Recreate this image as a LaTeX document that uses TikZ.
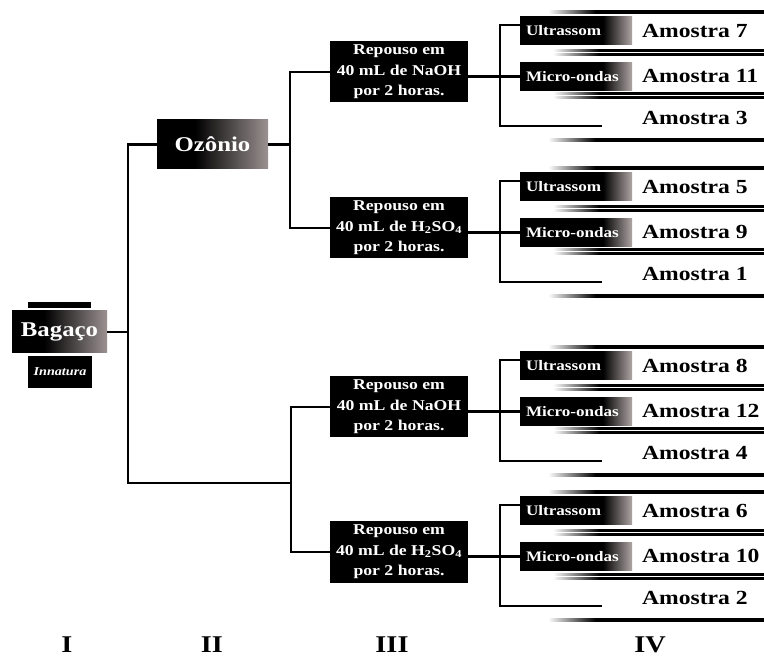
\documentclass[tikz,border=0pt]{standalone}
\usepackage{fontspec}
\setmainfont{Liberation Serif}[FakeStretch=1.18]
\usetikzlibrary{calc}
\definecolor{tabgrey}{RGB}{175,165,165}
\definecolor{boxgrey}{RGB}{155,145,145}
\pgfdeclarehorizontalshading{fadeline}{100bp}{color(0bp)=(white); color(25bp)=(white); color(36bp)=(black); color(100bp)=(black)}
\pgfdeclarehorizontalshading{tabfade}{100bp}{color(0bp)=(black); color(25bp)=(black); color(62bp)=(black); color(75bp)=(tabgrey); color(100bp)=(tabgrey)}
\pgfdeclarehorizontalshading{boxfade}{100bp}{color(0bp)=(black); color(25bp)=(black); color(42bp)=(black); color(75bp)=(boxgrey); color(100bp)=(boxgrey)}
\tikzset{
  conn/.style={line width=2.4pt, black},
  bigbox/.style={shade, shading=boxfade, text=white, inner sep=0pt,
    font=\bfseries\fontsize{21}{24}\selectfont},
  repbox/.style={fill=black, text=white, minimum width=138pt, minimum height=61pt,
    align=center, inner sep=0pt, font=\bfseries\fontsize{15}{20.5}\selectfont},
  tabbox/.style={shade, shading=tabfade, text=white, minimum width=112pt, minimum height=28pt,
    text width=100pt, align=left, inner xsep=6pt, inner ysep=0pt,
    font=\bfseries\fontsize{14.5}{18}\selectfont},
  sample/.style={anchor=west, inner sep=0pt, font=\bfseries\fontsize{20}{24}\selectfont},
  roman/.style={anchor=north, inner sep=0pt, font=\bfseries\fontsize{24}{28}\selectfont}
}
\begin{document}
\begin{tikzpicture}[x=1pt,y=-1pt]
\useasboundingbox (0,0) rectangle (764,660);
\fill[white] (0,0) rectangle (764,660);

% column I
\fill[black] (28,302.5) rectangle (91,308.5);
\node[bigbox, minimum width=95pt, minimum height=42pt] (bag) at (59.5,332) {Bagaço};
\node[fill=black, text=white, minimum width=64pt, minimum height=32pt, inner sep=0pt,
  font=\bfseries\itshape\fontsize{12}{14}\selectfont] (inn) at (60,372) {Innatura};

% column II
\node[bigbox, minimum width=111pt, minimum height=49pt] (ozo) at (212.5,144.5) {Ozônio};

% column III
\node[repbox] (r1) at (399,72) {Repouso em\\40 mL de NaOH\\por 2 horas.};
\node[repbox] (r2) at (399,228) {Repouso em\\40 mL de H\textsubscript{2}SO\textsubscript{4}\\por 2 horas.};
\node[repbox] (r3) at (399,407) {Repouso em\\40 mL de NaOH\\por 2 horas.};
\node[repbox] (r4) at (399,552) {Repouso em\\40 mL de H\textsubscript{2}SO\textsubscript{4}\\por 2 horas.};

% column IV
\foreach \o/\g/\sa/\sb/\sc in {0/1/7/11/3, 156/2/5/9/1, 335/3/8/12/4, 480/4/6/10/2} {
  \shade[shading=fadeline] (548,{12+\o-1.5}) rectangle (764,{12+\o+1.5});
  \shade[shading=fadeline] (553,{51+\o-1}) rectangle (764,{51+\o+1});
  \shade[shading=fadeline] (553,{55+\o-1}) rectangle (764,{55+\o+1});
  \shade[shading=fadeline] (553,{94+\o-1}) rectangle (764,{94+\o+1});
  \shade[shading=fadeline] (553,{98+\o-1}) rectangle (764,{98+\o+1});
  \shade[shading=fadeline] (548,{140+\o-1.5}) rectangle (764,{140+\o+1.5});
  \node[tabbox] (u\g) at (576,{31+\o}) {Ultrassom};
  \node[tabbox] (m\g) at (576,{76.5+\o}) {Micro-ondas};
  \node[sample] (sa\g) at (642,{31+\o}) {Amostra \sa};
  \node[sample] (sb\g) at (642,{76+\o}) {Amostra \sb};
  \node[sample] (sc\g) at (642,{118+\o}) {Amostra \sc};
  \coordinate (j\g) at (500,{126+\o});
  \coordinate (e\g) at (602,{126+\o});
  \draw[conn] ([yshift=6pt]u\g.west) -| (j\g) -- (e\g);
  \draw[conn] (r\g.east |- m\g.west) -- (m\g.west);
}

% connectors
\coordinate (bj) at (128,332);
\coordinate (lj) at (128,483);
\coordinate (lk) at (291,483);
\coordinate (oj) at (290,144.5);
\draw[conn] (bag.east) -- (bj);
\draw[conn] (ozo.west) -| (lj) -- (lk);
\draw[conn] (r3.west) -| (lk) |- (r4.west);
\draw[conn] (ozo.east) -- (oj);
\draw[conn] (r1.west) -| (oj) |- (r2.west);

% column labels
\node[roman] (c1) at (67,637) {I};
\node[roman] (c2) at (212,637) {II};
\node[roman] (c3) at (392,637) {III};
\node[roman] (c4) at (650,637) {IV};
\end{tikzpicture}
\end{document}
